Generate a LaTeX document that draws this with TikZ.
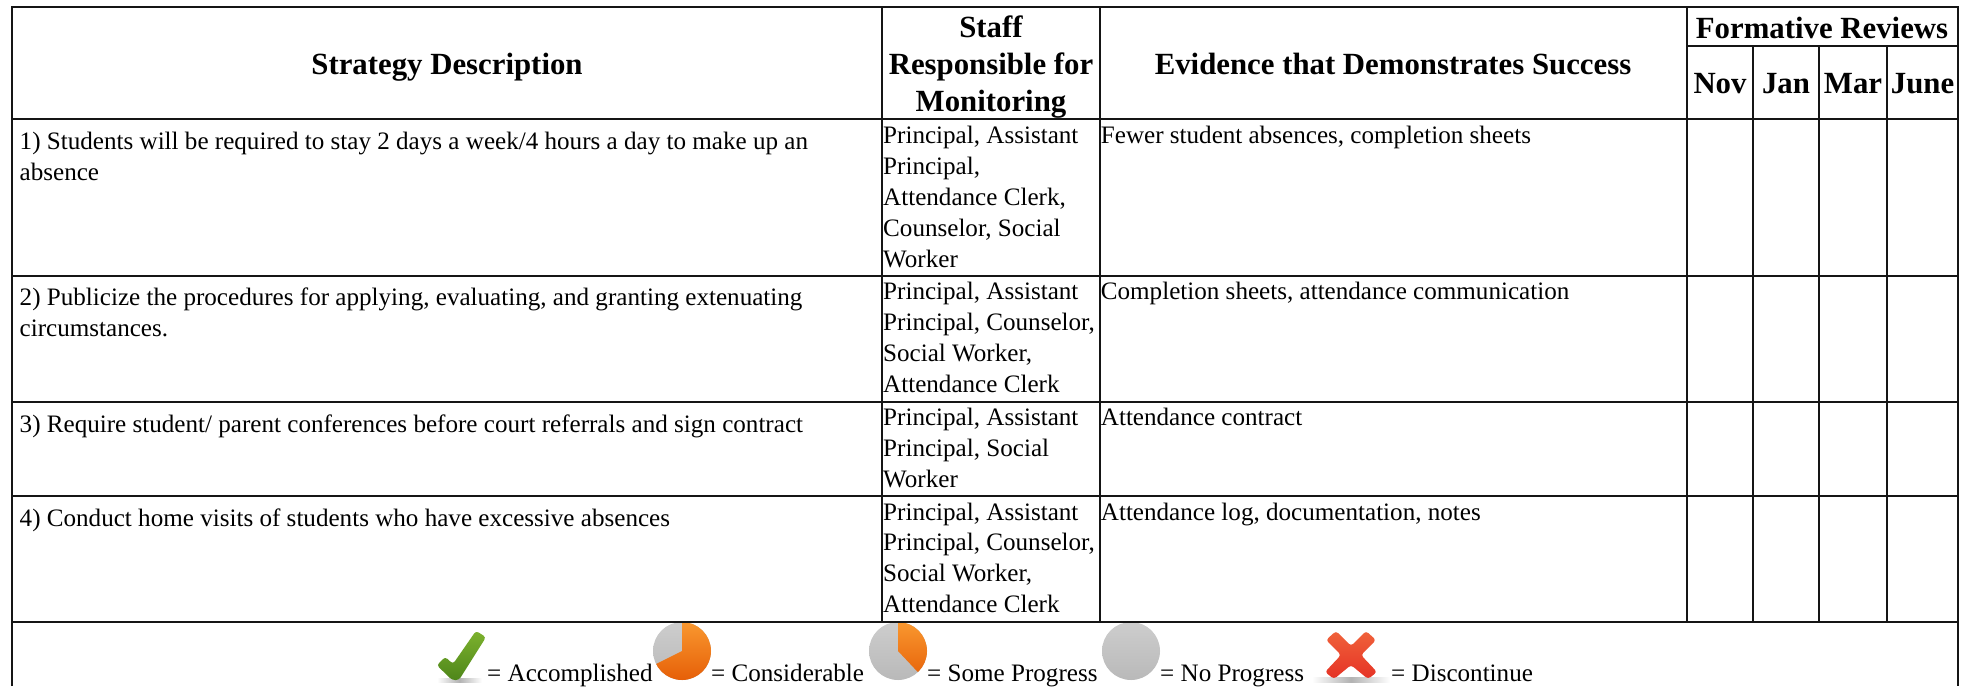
\documentclass[tikz,border=0pt]{standalone}
\usepackage{fontspec}
\setmainfont{Liberation Serif}
\definecolor{rule}{HTML}{151515}
\definecolor{oTop}{HTML}{F9982F}
\definecolor{oBot}{HTML}{E65F08}
\definecolor{gTop}{HTML}{CDCDCD}
\definecolor{gBot}{HTML}{B9B9B9}
\definecolor{ckTop}{RGB}{125,178,46}
\definecolor{ckBot}{RGB}{78,134,26}
\definecolor{xTop}{RGB}{240,98,58}
\definecolor{xBot}{RGB}{229,50,37}
\tikzset{
  gridline/.style={draw=rule,line width=2pt},
  cell/.style={inner sep=0pt,anchor=base west,align=left,font=\fontsize{25.1}{30.9}\selectfont},
  head/.style={inner sep=0pt,anchor=base,align=center,font=\fontsize{30.8}{36.6}\selectfont\bfseries},
  legend/.style={inner sep=0pt,anchor=base west,font=\fontsize{25.1}{30.9}\selectfont},
  greyshade/.style={top color=gTop,bottom color=gBot,draw=none},
  orangeshade/.style={top color=oTop,bottom color=oBot,draw=none},
  under/.style={left color=white,right color=white,middle color=black!30,draw=none}
}
\begin{document}
\begin{tikzpicture}[x=1pt,y=-1pt]
\useasboundingbox (0,0) rectangle (1969,686);
% legend icons
\shade[under] (437,678) rectangle (482,682);
\shade[top color=ckTop,bottom color=ckBot,rounded corners=3pt]
 (436.8,665.2) -- (445.2,656.8) -- (453,664) -- (476,630.8) -- (486,637.2) -- (459,680) -- (452,680) -- cycle;
\shade[greyshade] (682,651) circle[radius=29pt];
\begin{scope}
 \clip (682,651) -- (682,610) -- (720,610) -- (720,700) -- (640,700) -- (640,672) -- cycle;
 \shade[orangeshade] (682,651) circle[radius=29pt];
\end{scope}
\shade[greyshade] (898,651) circle[radius=29pt];
\begin{scope}
 \clip (898,651) -- (898,610) -- (935,610) -- (935,685) -- (930,685) -- cycle;
 \shade[orangeshade] (898,651) circle[radius=29pt];
\end{scope}
\shade[greyshade] (1131,651) circle[radius=29pt];
\shade[under] (1312,677) rectangle (1390,682);
\shade[top color=xTop,bottom color=xBot,rounded corners=3pt]
 (1326,640) -- (1336,631) -- (1351,646) -- (1366,631) -- (1376,640) -- (1361,655) -- (1377,672) -- (1368,679) -- (1351,665) -- (1334,679) -- (1325,672) -- (1341,655) -- cycle;
% grid
\draw[gridline] (12,686) -- (12,7) -- (1958,7) -- (1958,686);
\foreach \yy in {118.5,275.7,401.7,496,622} \draw[gridline] (12,\yy) -- (1958,\yy);
\foreach \xx in {882,1100,1687} \draw[gridline] (\xx,7) -- (\xx,622);
\foreach \xx in {1753,1819,1887} \draw[gridline] (\xx,46) -- (\xx,622);
\draw[gridline] (1687,46) -- (1958,46);
% header
\node[head] (hStrategy) at (447,74) {Strategy Description};
\node[head] (hStaff) at (991,111) {Staff\\Responsible for\\Monitoring};
\node[head] (hEvidence) at (1393,74) {Evidence that Demonstrates Success};
\node[head] (hForm) at (1822,38) {Formative Reviews};
\node[head] (hNov) at (1720,93) {Nov};
\node[head] (hJan) at (1786,93) {Jan};
\node[head] (hMar) at (1853,93) {Mar};
\node[head] (hJune) at (1922.5,93) {June};
% strategies
\node[cell] (s1) at (19.5,180.7) {1) Students will be required to stay 2 days a week/4 hours a day to make up an\\absence};
\node[cell] (s2) at (19.5,336.7) {2) Publicize the procedures for applying, evaluating, and granting extenuating\\circumstances.};
\node[cell] (s3) at (19.5,432.3) {3) Require student/ parent conferences before court referrals and sign contract};
\node[cell] (s4) at (19.5,526) {4) Conduct home visits of students who have excessive absences};
% staff
\node[cell] (t1) at (883,267) {Principal, Assistant\\Principal,\\Attendance Clerk,\\Counselor, Social\\Worker};
\node[cell] (t2) at (883,392) {Principal, Assistant\\Principal, Counselor,\\Social Worker,\\Attendance Clerk};
\node[cell] (t3) at (883,487) {Principal, Assistant\\Principal, Social\\Worker};
\node[cell] (t4) at (883,612.7) {Principal, Assistant\\Principal, Counselor,\\Social Worker,\\Attendance Clerk};
% evidence
\node[cell] (e1) at (1100.7,143) {Fewer student absences, completion sheets};
\node[cell] (e2) at (1100.7,299.3) {Completion sheets, attendance communication};
\node[cell] (e3) at (1100.7,425.7) {Attendance contract};
\node[cell] (e4) at (1100.7,520.7) {Attendance log, documentation, notes};
% legend
\node[legend] (l1) at (487,681) {= Accomplished};
\node[legend] (l2) at (711,681) {= Considerable};
\node[legend] (l3) at (927,681) {= Some Progress};
\node[legend] (l4) at (1160,681) {= No Progress};
\node[legend] (l5) at (1391,681) {= Discontinue};
\end{tikzpicture}
\end{document}
